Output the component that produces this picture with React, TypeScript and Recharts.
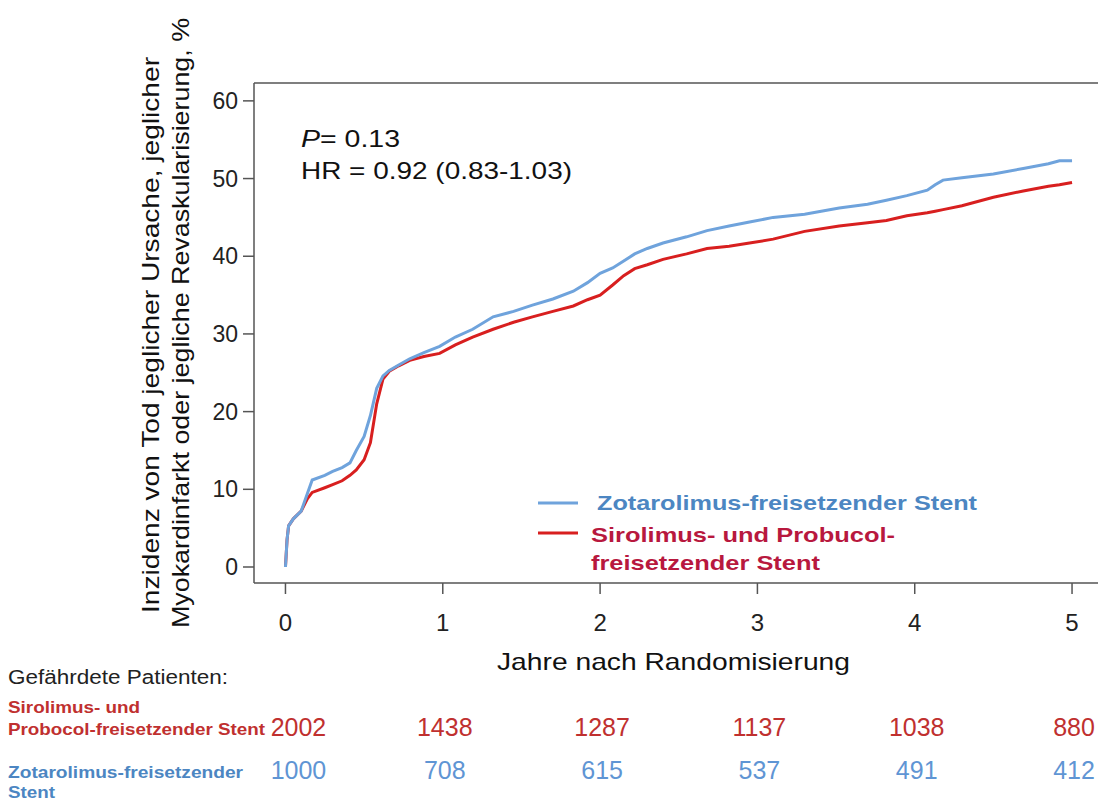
import { LineChart, Line, XAxis, YAxis, ReferenceLine } from "recharts";

// Jahre nach Randomisierung
const times = [
  0, 0.01, 0.02, 0.05, 0.1, 0.14, 0.17, 0.25, 0.3, 0.36, 0.41, 0.45, 0.5, 0.54,
  0.58, 0.62, 0.66, 0.72, 0.79, 0.88, 0.98, 1.08, 1.19, 1.32, 1.45, 1.57, 1.7,
  1.83, 1.92, 2.0, 2.08, 2.15, 2.22, 2.3, 2.4, 2.55, 2.68, 2.82, 2.95, 3.1, 3.3,
  3.52, 3.7, 3.82, 3.95, 4.08, 4.13, 4.18, 4.3, 4.5, 4.69, 4.85, 4.92, 5.0,
];

// Zotarolimus-freisetzender Stent (%)
const zotarolimus = [
  0, 3.5, 5.3, 6.2, 7.2, 9.5, 11.2, 11.8, 12.3, 12.8, 13.4, 15.0, 16.8, 19.5,
  23.0, 24.6, 25.3, 26.0, 26.8, 27.6, 28.4, 29.6, 30.6, 32.2, 32.9, 33.7, 34.5,
  35.5, 36.6, 37.8, 38.5, 39.4, 40.3, 41.0, 41.7, 42.5, 43.3, 43.9, 44.4, 45.0,
  45.4, 46.2, 46.7, 47.2, 47.8, 48.5, 49.2, 49.8, 50.1, 50.6, 51.3, 51.9, 52.3,
  52.3,
];

// Sirolimus- und Probucol-freisetzender Stent (%)
const sirolimus = [
  0, 3.5, 5.3, 6.2, 7.2, 8.8, 9.6, 10.2, 10.6, 11.1, 11.8, 12.5, 13.8, 16.0,
  21.0, 24.2, 25.2, 25.9, 26.6, 27.1, 27.5, 28.6, 29.6, 30.6, 31.5, 32.2, 32.9,
  33.6, 34.4, 35.0, 36.3, 37.5, 38.4, 38.9, 39.6, 40.3, 41.0, 41.3, 41.7, 42.2,
  43.2, 43.9, 44.3, 44.6, 45.2, 45.6, 45.8, 46.0, 46.5, 47.6, 48.4, 49.0, 49.2,
  49.5,
];

const years = [0, 1, 2, 3, 4, 5];
const yTicks = [0, 10, 20, 30, 40, 50, 60];

// Gefährdete Patienten
const riskSirolimus = [2002, 1438, 1287, 1137, 1038, 880];
const riskZotarolimus = [1000, 708, 615, 537, 491, 412];

const X_DOMAIN: [number, number] = [-0.2, 5.165];
const Y_DOMAIN: [number, number] = [-2.06, 62.3];

const BLUE_LINE = "#6fa3dc";
const RED_LINE = "#d81f1f";
const BLUE_TEXT = "#4c86c2";
const RED_TEXT = "#b8183e";
const RED_NUM = "#c0302f";
const BLUE_NUM = "#5f95d4";
const AXIS = "#555";

const data = times.map((t, i) => ({
  t,
  zot: zotarolimus[i],
  sir: sirolimus[i],
}));

const YearTick = (props: any) => {
  const { x, y, payload } = props;
  const i = years.indexOf(payload.value);
  const dx = i === 0 ? 13 : 2;
  return (
    <g>
      <text x={x} y={y + 37} textAnchor="middle" fontSize={24} fill="#222">
        {payload.value}
      </text>
      <text x={x + dx} y={y + 142} textAnchor="middle" fontSize={25} fill={RED_NUM}>
        {riskSirolimus[i]}
      </text>
      <text x={x + dx} y={y + 185} textAnchor="middle" fontSize={25} fill={BLUE_NUM}>
        {riskZotarolimus[i]}
      </text>
    </g>
  );
};

// stretched text, the source figure is a bit wider than the font
const T = (p: any) => (
  <text lengthAdjust="spacingAndGlyphs" {...p}>
    {p.children}
  </text>
);

export default function App() {
  return (
    <div
      style={{
        position: "absolute",
        left: 0,
        top: 0,
        width: 1098,
        height: 801,
        background: "#fff",
        fontFamily: "'Liberation Sans', Arial, sans-serif",
      }}
    >
      <LineChart
        width={1098}
        height={801}
        data={data}
        margin={{ top: 83, right: 0, left: 194, bottom: 198 }}
      >
        <XAxis
          dataKey="t"
          type="number"
          domain={X_DOMAIN}
          ticks={years}
          interval={0}
          allowDataOverflow
          height={20}
          tickSize={11}
          tickMargin={0}
          tick={<YearTick />}
          axisLine={{ stroke: AXIS, strokeWidth: 1.5 }}
          tickLine={{ stroke: AXIS, strokeWidth: 1.5 }}
        />
        <YAxis
          type="number"
          domain={Y_DOMAIN}
          ticks={yTicks}
          interval={0}
          allowDataOverflow
          width={60}
          tickSize={11}
          tickMargin={5}
          tick={{ fontSize: 23, fill: "#222" }}
          axisLine={{ stroke: AXIS, strokeWidth: 1.5 }}
          tickLine={{ stroke: AXIS, strokeWidth: 1.5 }}
        />
        <ReferenceLine y={Y_DOMAIN[1]} stroke={AXIS} strokeWidth={1.5} />
        <Line
          dataKey="sir"
          type="linear"
          stroke={RED_LINE}
          strokeWidth={3}
          dot={false}
          isAnimationActive={false}
        />
        <Line
          dataKey="zot"
          type="linear"
          stroke={BLUE_LINE}
          strokeWidth={3}
          dot={false}
          isAnimationActive={false}
        />
      </LineChart>

      <svg
        width={1098}
        height={801}
        style={{ position: "absolute", left: 0, top: 0, pointerEvents: "none" }}
      >
        {/* y axis title */}
        <T
          transform="translate(159,335) rotate(-90)"
          textAnchor="middle"
          fontSize={24}
          fill="#111"
          textLength={556}
        >
          Inzidenz von Tod jeglicher Ursache, jeglicher
        </T>
        <T
          transform="translate(189,323) rotate(-90)"
          textAnchor="middle"
          fontSize={24}
          fill="#111"
          textLength={610}
        >
          Myokardinfarkt oder jegliche Revaskularisierung, %
        </T>

        {/* annotation */}
        <T x={301} y={147} fontSize={24} fill="#111" textLength={99}>
          <tspan fontStyle="italic">P</tspan>= 0.13
        </T>
        <T x={301} y={179} fontSize={24} fill="#111" textLength={271}>
          HR = 0.92 (0.83-1.03)
        </T>

        {/* legend */}
        <line x1={538} x2={578} y1={503} y2={503} stroke={BLUE_LINE} strokeWidth={3} />
        <T x={597} y={510} fontSize={21} fontWeight="bold" fill={BLUE_TEXT} textLength={380}>
          Zotarolimus-freisetzender Stent
        </T>
        <line x1={538} x2={578} y1={533} y2={533} stroke={RED_LINE} strokeWidth={3} />
        <T x={591} y={542} fontSize={21} fontWeight="bold" fill={RED_TEXT} textLength={304}>
          Sirolimus- und Probucol-
        </T>
        <T x={591} y={570} fontSize={21} fontWeight="bold" fill={RED_TEXT} textLength={229}>
          freisetzender Stent
        </T>

        {/* x axis title */}
        <T x={497} y={670} fontSize={24} fill="#111" textLength={353}>
          Jahre nach Randomisierung
        </T>

        {/* risk table labels */}
        <T x={8} y={684} fontSize={20} fill="#222" textLength={220}>
          Gefährdete Patienten:
        </T>
        <T x={8} y={713} fontSize={17} fontWeight="bold" fill={RED_NUM} textLength={132}>
          Sirolimus- und
        </T>
        <T x={8} y={735} fontSize={17} fontWeight="bold" fill={RED_NUM} textLength={257}>
          Probocol-freisetzender Stent
        </T>
        <T x={8} y={778} fontSize={17} fontWeight="bold" fill={BLUE_TEXT} textLength={235}>
          Zotarolimus-freisetzender
        </T>
        <T x={8} y={798} fontSize={17} fontWeight="bold" fill={BLUE_TEXT} textLength={47}>
          Stent
        </T>
      </svg>
    </div>
  );
}
